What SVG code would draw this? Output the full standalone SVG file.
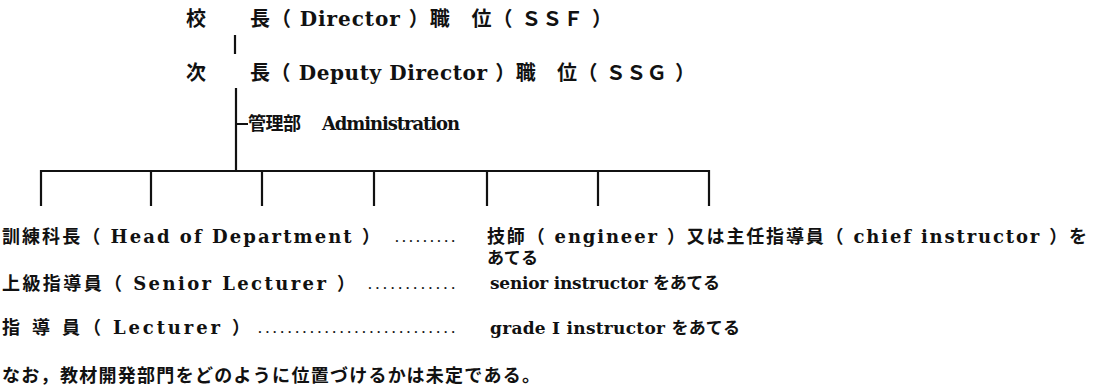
<svg xmlns="http://www.w3.org/2000/svg" width="1106" height="389" viewBox="0 0 1106 389">
<style>
.t{font-family:"DejaVu Serif","Noto Sans CJK JP",serif;font-weight:bold;font-size:20px;fill:#111}
.s{font-size:18px}
.c{font-size:17px}
.d{font-family:"DejaVu Serif",serif;font-weight:bold;font-size:11px;fill:#111}
.ln{stroke:#111;stroke-width:2.2;fill:none}
</style>
<rect width="1106" height="389" fill="#fff"/>
<g id="connectors">
<path class="ln" d="M235 35V54M236 88V170M236 124H248M41 171H709M41 170V206M151 170V206M262 170V206M374 170V206M487 170V206M598 170V206M709 170V206"/>
</g>
<g id="director">
<text class="t" x="186" y="26">校</text>
<text class="t" x="250" y="26" textLength="362" lengthAdjust="spacing">長（ Director ）職　位（ ＳＳＦ ）</text>
</g>
<g id="deputy">
<text class="t" x="186" y="80">次</text>
<text class="t" x="250" y="80" textLength="445" lengthAdjust="spacing">長（ Deputy Director ）職　位（ ＳＳＧ ）</text>
</g>
<g id="admin">
<text class="t s" x="248" y="130" textLength="53" lengthAdjust="spacing">管理部</text>
<text class="t s" x="322" y="130" textLength="138" lengthAdjust="spacing">Administration</text>
</g>
<g id="head">
<text class="t s" x="2" y="243" textLength="378" lengthAdjust="spacing">訓練科長（ Head of Department ）</text>
<text class="d" x="395" y="242" textLength="60" lengthAdjust="spacing">.........</text>
<text class="t s" x="487" y="243" textLength="600" lengthAdjust="spacing">技師（ engineer ）又は主任指導員（ chief instructor ）を</text>
<text class="t c" x="487" y="264" textLength="51" lengthAdjust="spacing">あてる</text>
</g>
<g id="senior">
<text class="t s" x="2" y="290" textLength="353" lengthAdjust="spacing">上級指導員（ Senior Lecturer ）</text>
<text class="d" x="368" y="289" textLength="87" lengthAdjust="spacing">............</text>
<text class="t c" x="490" y="289" textLength="230" lengthAdjust="spacing">senior instructor をあてる</text>
</g>
<g id="lecturer">
<text class="t s" x="2" y="334" textLength="248" lengthAdjust="spacing">指 導 員（ Lecturer ）</text>
<text class="d" x="258" y="333" textLength="197" lengthAdjust="spacing">...........................</text>
<text class="t c" x="490" y="334" textLength="250" lengthAdjust="spacing">grade I instructor をあてる</text>
</g>
<g id="note">
<text class="t s" x="2" y="382" textLength="538" lengthAdjust="spacing">なお，教材開発部門をどのように位置づけるかは未定である。</text>
</g>
</svg>
